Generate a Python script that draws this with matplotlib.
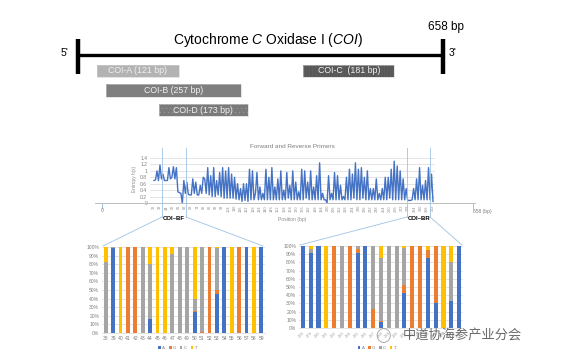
import numpy as np
import matplotlib
matplotlib.use("Agg")
import matplotlib.pyplot as plt
from matplotlib.patches import Rectangle

plt.rcParams['font.family'] = ['Liberation Sans', 'DejaVu Sans']
plt.rcParams['mathtext.fontset'] = 'custom'
plt.rcParams['mathtext.rm'] = 'Liberation Sans'
plt.rcParams['mathtext.it'] = 'Liberation Sans:italic'
plt.rcParams['hatch.linewidth'] = 0.3

# ---------------- data ----------------
gene_length = 658
amplicon_names = ["COI-A (121 bp)", "COI-B (257 bp)", "COI-C  (181 bp)", "COI-D (173 bp)"]
amplicon_start = [34, 50, 406, 146]
amplicon_end = [182, 293, 570, 306]
amplicon_row = [0, 1, 0, 2]
amplicon_color = ["#b3b3b3", "#7f7f7f", "#575757", "#7a7a7a"]
amplicon_hatch = [None, None, "||||||", "...."]
amplicon_hatch_color = ["#b3b3b3", "#7f7f7f", "#6c6c6c", "#9a9a9a"]

entropy = [0.7, 0.72, 1.0, 0.7, 1.18, 0.75, 0.9, 0.7, 0.7, 0.7, 1.1, 0.75, 0.8, 1.13, 0.75, 1.1,
           0.35, 0.32, 0.3, 0.0, 0.7, 0.3, 0.65,
           0.27, 0.25, 0.25, 0.75, 0.3, 0.65, 0.25, 0.25, 0.55, 0.3, 0.8, 0.75, 0.3, 1.1, 0.25, 0.85,
           0.2, 1.1, 0.2, 0.7, 0.25, 0.95, 0.2, 1.1, 0.15, 1.0, 0.15, 1.1, 0.15, 0.9, 0.15, 0.8, 0.12,
           0.6, 0.1, 0.45, 0.05,
           0.6, 0.08, 0.6, 0.05, 1.05, 0.1, 1.0, 0.1, 0.3, 0.95, 0.1, 0.5, 0.1, 0.3, 0.1, 1.05, 0.1,
           0.8, 0.1, 1.1, 0.1, 0.5, 0.1, 0.75, 0.1, 1.0, 0.1, 0.4, 0.1, 0.95, 0.15, 0.55, 0.1, 1.0,
           0.1, 0.65, 0.1, 0.35, 0.1, 1.05, 0.1, 1.0, 0.15, 0.65, 0.1, 1.0, 0.1, 0.5, 0.1, 0.85, 0.1,
           1.25, 0.1, 0.3, 0.1, 0.1, 0.0, 0.85, 0.1, 0.3, 0.1, 0.95, 0.1, 0.85, 0.1, 0.55, 0.1, 0.2,
           0.1, 0.8, 0.1, 1.05, 0.1, 0.9, 0.15, 1.25, 0.1, 1.05, 0.1, 1.1, 0.15, 0.8, 0.1, 1.0, 0.1,
           0.45, 0.1, 0.45, 0.1, 0.75, 0.1, 0.3, 0.1, 0.45, 0.1, 0.8, 0.1, 0.8, 0.15, 1.05, 0.1, 1.3,
           0.1, 1.15, 0.1, 1.0, 0.1, 0.75, 0.1, 0.45, 0.08, 0.08, 0.08, 0.1, 0.45, 0.1, 0.75, 0.1,
           1.1, 0.1, 0.55, 0.1, 0.7, 0.1, 1.1, 0.1, 0.9, 0.05]
pos_first, pos_last = 32, 302
pos_labels = list(range(32, 303, 6))
entropy_yticks = [0, 0.2, 0.4, 0.6, 0.8, 1.0, 1.2, 1.4]
entropy_ylabels = ["0", "0.2", "0.4", "0.6", "0.8", "1", "1.2", "1.4"]

bases = ["A", "G", "C", "T"]
base_colors = ["#4472c4", "#ed7d31", "#a5a5a5", "#ffc000"]

bf_pos = [str(p) for p in range(38, 60)]
bf_A = [0, 99, 0, 0, 0, 0, 16, 0, 0, 0, 0, 0, 25, 0, 0, 45, 100, 0, 0, 100, 0, 100]
bf_G = [0, 0, 0, 100, 100, 0, 0, 0, 0, 0, 0, 0, 1, 1, 100, 5, 0, 0, 100, 0, 0, 0]
bf_C = [82, 1, 0, 0, 0, 100, 64, 0, 0, 92, 100, 100, 14, 99, 0, 49, 0, 0, 0, 0, 0, 0]
bf_T = [18, 0, 100, 0, 0, 0, 20, 100, 100, 8, 0, 0, 60, 0, 0, 1, 0, 100, 0, 0, 100, 0]

br_pos = [str(p) for p in range(278, 299)]
br_A = [100, 91, 100, 0, 0, 0, 0, 91, 100, 0, 7, 0, 0, 43, 0, 0, 85, 31, 0, 33, 100]
br_G = [0, 0, 0, 0, 100, 0, 100, 5, 0, 23, 1, 0, 0, 10, 100, 100, 10, 69, 0, 0, 0]
br_C = [0, 5, 0, 0, 0, 100, 0, 4, 0, 77, 77, 100, 100, 45, 0, 0, 0, 0, 0, 48, 0]
br_T = [0, 4, 0, 100, 0, 0, 0, 0, 0, 0, 15, 0, 0, 2, 0, 0, 5, 0, 100, 19, 0]

# ---------------- figure ----------------
W, H = 568, 363
fig = plt.figure(figsize=(W / 100, H / 100), dpi=100)
fig.patch.set_facecolor("white")


def px_axes(l, t, r, b, **kw):
    return fig.add_axes([l / W, 1 - b / H, (r - l) / W, (b - t) / H], **kw)


def ftext(x, y, s, **kw):
    fig.text(x / W, 1 - y / H, s, **kw)


# ---- top schematic ----
ax0 = px_axes(78, 20, 443, 125)
ax0.set_xlim(0, gene_length)
ax0.set_ylim(2.769, -2.615)
ax0.axis("off")
ax0.plot([0, gene_length], [-0.82, -0.82], color="black", lw=2.4, solid_capstyle="butt", clip_on=False)
for xe in (0, gene_length):
    ax0.plot([xe, xe], [-1.62, 0.15], color="black", lw=3.2, solid_capstyle="butt", clip_on=False)
for name, s, e, r, c, h, hc in zip(amplicon_names, amplicon_start, amplicon_end, amplicon_row,
                                   amplicon_color, amplicon_hatch, amplicon_hatch_color):
    ax0.add_patch(Rectangle((s, r - 0.31), e - s, 0.62, facecolor=c, edgecolor=hc,
                            lw=0, hatch=h))
    ax0.add_patch(Rectangle((s, r - 0.31), e - s, 0.62, fill=False, edgecolor="#d0d0d0", lw=0.4))
    ax0.text((s + e) / 2, r, name, ha="center", va="center", fontsize=6.3, color="#f0f0f0")

ftext(268, 40, r"Cytochrome $C$ Oxidase I ($COI$)", ha="center", va="center", fontsize=10)
ftext(446, 27, "658 bp", ha="center", va="center", fontsize=8.5)
ftext(65, 53, "5'", ha="center", va="center", fontsize=7.5)
ftext(453, 53, "3'", ha="center", va="center", fontsize=7.5)

# ---- middle entropy chart ----
N = len(entropy)
xs = np.arange(N)
ax1 = px_axes(150, 154.8, 435, 203)
span = N - 1
ax1.set_xlim(-4 / 279 * span, span * (1 + 2 / 279))
ax1.set_ylim(0, 1.5)
ax1.plot(xs, entropy, color="#4472c4", lw=1.0)
ax1.set_yticks(entropy_yticks)
ax1.set_yticklabels(entropy_ylabels)
ax1.yaxis.grid(True, color="#d9d9d9", lw=0.5)
ax1.set_axisbelow(True)
for sp in ax1.spines.values():
    sp.set_visible(False)
ax1.tick_params(axis="y", length=0, labelsize=3.6, labelcolor="#7f7f7f", pad=2)
tick_idx = [(p - pos_first) / (pos_last - pos_first) * span for p in pos_labels]
ax1.set_xticks(tick_idx)
ax1.set_xticklabels([str(p) for p in pos_labels], rotation=90)
ax1.tick_params(axis="x", length=0, labelsize=2.8, labelcolor="#8c8c8c", pad=1.5)
ax1.set_ylabel("Entropy h(x)", fontsize=3.4, color="#8c8c8c", labelpad=2)
ax1.set_title("Forward and Reverse Primers", fontsize=4.6, color="#7f7f7f", pad=5)

# bp number line
axn = px_axes(95, 190, 475, 203)
scale = 371 / gene_length
axn.set_xlim(-7 / scale, gene_length + 2 / scale)
axn.patch.set_alpha(0)
for k in ("top", "left", "right"):
    axn.spines[k].set_visible(False)
axn.spines["bottom"].set_color("#bfbfbf")
axn.spines["bottom"].set_linewidth(0.7)
axn.set_yticks([])
axn.set_xticks([0, gene_length])
axn.set_xticklabels(["", ""])
axn.tick_params(axis="x", length=4, color="#9dc3e6", width=0.7)
ftext(102, 211, "0", ha="center", va="center", fontsize=3.6, color="#7f7f7f")
ftext(482, 211, "658 (bp)", ha="center", va="center", fontsize=3.6, color="#7f7f7f")
ftext(292, 219, "Position (bp)", ha="center", va="center", fontsize=3.6, color="#8c8c8c")
ftext(174, 218, "COI\u2013BF", ha="center", va="center", fontsize=4.3, fontweight="bold")
ftext(419, 218, "COI\u2013BR", ha="center", va="center", fontsize=4.3, fontweight="bold")


# ---- bottom stacked bars ----
def stacked(ax, cats, A, G, C, T, rot):
    x = np.arange(len(cats))
    bottom = np.zeros(len(cats))
    for vals, col, lab in zip([A, G, C, T], base_colors, bases):
        v = np.array(vals) / 100.0
        ax.bar(x, v, 0.52, bottom=bottom, color=col, label=lab, zorder=2)
        bottom += v
    ax.set_xlim(-0.5, len(cats) - 0.5)
    ax.set_ylim(0, 1.0)
    ax.set_yticks(np.arange(0, 1.01, 0.1))
    ax.set_yticklabels([f"{int(round(t * 100))}%" for t in np.arange(0, 1.01, 0.1)])
    ax.yaxis.grid(True, color="#d9d9d9", lw=0.5)
    ax.set_axisbelow(True)
    for k in ("top", "left", "right"):
        ax.spines[k].set_visible(False)
    ax.spines["bottom"].set_color("#d9d9d9")
    ax.spines["bottom"].set_linewidth(0.5)
    ax.tick_params(axis="y", length=0, labelsize=3.6, labelcolor="#7f7f7f", pad=2)
    ax.set_xticks(x)
    if rot:
        ax.set_xticklabels(cats, rotation=45, ha="right", rotation_mode="anchor")
        ax.tick_params(axis="x", length=0, labelsize=3.0, labelcolor="#a0a0a0", pad=2)
    else:
        ax.set_xticklabels(cats)
        ax.tick_params(axis="x", length=0, labelsize=3.6, labelcolor="#7f7f7f", pad=2)


ax2 = px_axes(102, 247, 265, 333)
stacked(ax2, bf_pos, bf_A, bf_G, bf_C, bf_T, False)
ax2.legend(loc="center", bbox_to_anchor=(0.465, -0.175), ncol=4, frameon=False, fontsize=3.2,
           handlelength=0.6, handleheight=0.6, handletextpad=0.3, columnspacing=0.8,
           labelcolor="#7f7f7f")

ax3 = px_axes(299, 246, 463, 328)
stacked(ax3, br_pos, br_A, br_G, br_C, br_T, True)
ax3.legend(loc="center", bbox_to_anchor=(0.475, -0.245), ncol=4, frameon=False, fontsize=3.2,
           handlelength=0.6, handleheight=0.6, handletextpad=0.3, columnspacing=0.8,
           labelcolor="#7f7f7f")

# ---- connector lines (overlay) ----
ov = fig.add_axes([0, 0, 1, 1], zorder=5)
ov.set_xlim(0, W)
ov.set_ylim(H, 0)
ov.axis("off")
ov.patch.set_alpha(0)
lc = "#9dc3e6"
for xv in (162, 186, 407, 430):
    ov.plot([xv, xv], [148, 217], color=lc, lw=0.6)
ov.plot([162, 103], [217, 246], color=lc, lw=0.6)
ov.plot([186, 263], [217, 246], color=lc, lw=0.6)
ov.plot([407, 300], [217, 245], color=lc, lw=0.6)
ov.plot([430, 462], [217, 245], color=lc, lw=0.6)

# watermark
ov.text(383, 336, "\u25ef", ha="center", va="center", fontsize=10, color="#8a8a8a",
        family=["DejaVu Sans"], alpha=0.8)
ov.text(462, 336, "中道协海参产业分会", ha="center", va="center", fontsize=9.5,
        color="#505050", alpha=0.85, family=["Noto Sans CJK SC", "DejaVu Sans"])

fig.savefig("out.png", dpi=100)
